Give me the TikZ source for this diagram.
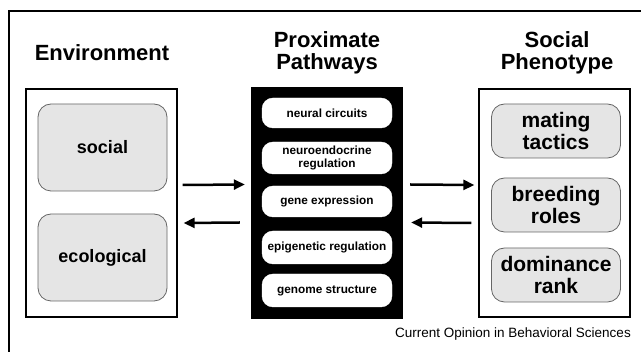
\documentclass[tikz,border=0pt]{standalone}
\usepackage{fontspec}
\setmainfont{Liberation Sans}
\usetikzlibrary{arrows.meta}
\tikzset{
  x=1pt, y=-1pt,
  frame/.style={draw=black, line width=1.2pt},
  bigbox/.style={draw=black, line width=1.3pt, minimum width=151pt, inner sep=0pt},
  blackbox/.style={draw=black, fill=black, minimum width=151pt, minimum height=231pt, inner sep=0pt},
  graypill/.style={draw=black!60, fill=black!10, line width=0.8pt, rounded corners=13pt,
     minimum width=129pt, inner sep=0pt, align=center, font=\bfseries},
  whitepill/.style={draw=white, fill=white, rounded corners=11pt, minimum width=130pt,
     inner sep=0pt, align=center, font=\fontsize{11.8}{13.3}\selectfont\bfseries},
  title/.style={align=center, inner sep=0pt, font=\fontsize{22}{22}\selectfont\bfseries},
  arr/.style={line width=2.5pt, -{Triangle[length=11pt,width=10pt]}}
}
\begin{document}
\begin{tikzpicture}
\useasboundingbox (0,0) rectangle (641,352);
\fill[white] (0,0) rectangle (641,352);
\draw[frame] (9,352) -- (9,11) -- (641,11);

% titles
\node[title] (tenv) at (102,53) {Environment};
\node[title] (tprox) at (327,52.5) {Proximate\\Pathways};
\node[title] (tphen) at (557,52.5) {Social\\Phenotype};

% main boxes
\node[bigbox, minimum height=228pt] (env) at (101.5,203) {};
\node[blackbox] (prox) at (326.5,202.5) {};
\node[bigbox, minimum height=228pt] (phen) at (554.5,203) {};

% environment pills
\node[graypill, minimum height=87pt, font=\fontsize{18}{20}\selectfont\bfseries] (social) at (102.5,147.5) {social};
\node[graypill, minimum height=87pt, font=\fontsize{18}{20}\selectfont\bfseries] (ecol) at (102.5,257.5) {ecological};

% proximate pills
\node[whitepill, minimum height=30pt] (p1) at (327,113) {neural circuits};
\node[whitepill, minimum height=32pt] (p2) at (327,158) {neuroendocrine\\regulation};
\node[whitepill, minimum height=31pt] (p3) at (327,201.5) {gene expression};
\node[whitepill, minimum height=33pt] (p4) at (327,247.5) {epigenetic regulation};
\node[whitepill, minimum height=33pt] (p5) at (327,290.5) {genome structure};

% phenotype pills
\node[graypill, minimum height=54pt, font=\fontsize{21}{22.5}\selectfont\bfseries] (mate) at (556,131) {mating\\tactics};
\node[graypill, minimum height=54pt, font=\fontsize{21}{22.5}\selectfont\bfseries] (breed) at (556,205) {breeding\\roles};
\node[graypill, minimum height=54pt, font=\fontsize{21}{22.5}\selectfont\bfseries] (dom) at (556,275) {dominance\\rank};

% arrows
\draw[arr] ([shift={(5pt,18pt)}]env.east) -- ([shift={(-6pt,18pt)}]prox.west);
\draw[arr] ([shift={(-11pt,-20pt)}]prox.west) -- ([shift={(6pt,-20pt)}]env.east);
\draw[arr] ([shift={(8pt,18pt)}]prox.east) -- ([shift={(-4pt,18pt)}]phen.west);
\draw[arr] ([shift={(-7pt,-20pt)}]phen.west) -- ([shift={(9pt,-20pt)}]prox.east);

% caption
\node[anchor=base east, inner sep=0pt, font=\fontsize{13.5}{15}\selectfont] (cap) at (631,338) {Current Opinion in Behavioral Sciences};
\end{tikzpicture}
\end{document}
